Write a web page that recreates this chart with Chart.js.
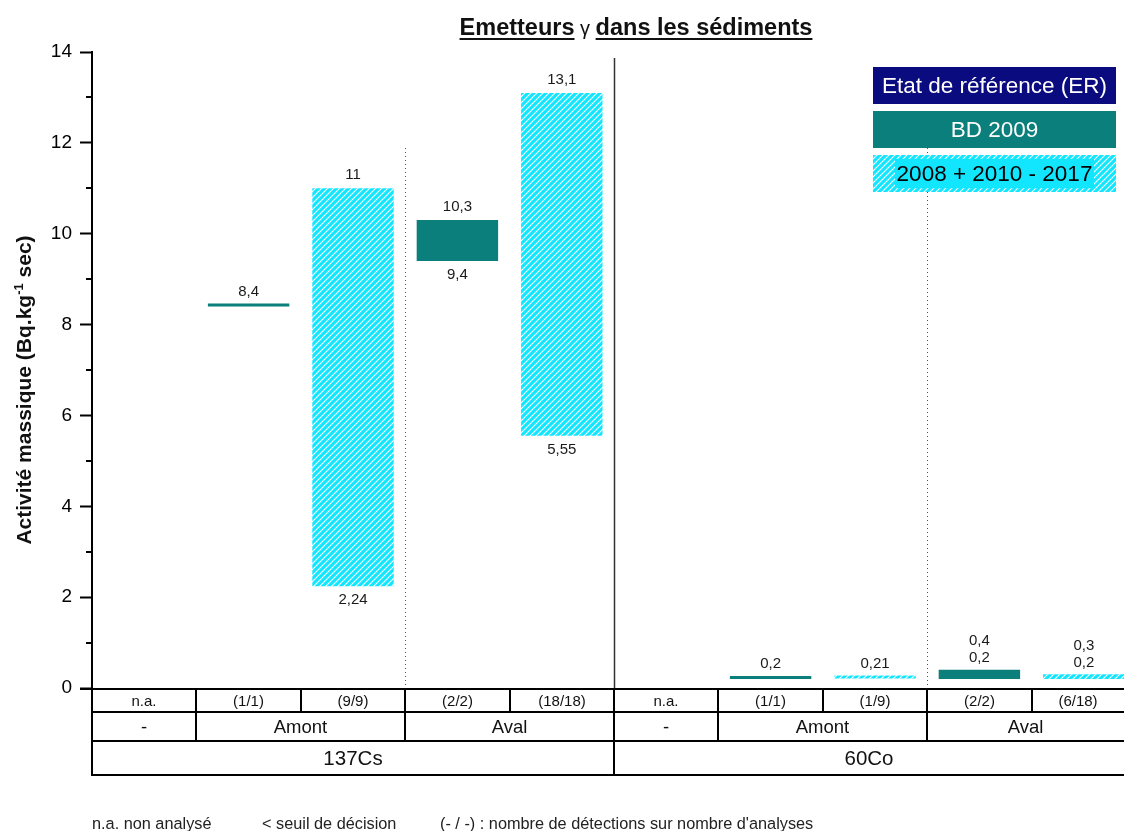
<!DOCTYPE html>
<html><head><meta charset="utf-8">
<script src="https://cdn.jsdelivr.net/npm/chart.js@4/dist/chart.umd.min.js"></script>
<style>html,body{margin:0;padding:0;background:#fff;overflow:hidden}#wrap{width:1124px;height:831px;position:relative}</style>
</head><body><div id="wrap"><canvas id="c" width="1124" height="831"></canvas></div>
<script>
// ---- data ----
const categories = ['n.a.', '(1/1)', '(9/9)', '(2/2)', '(18/18)', 'n.a.', '(1/1)', '(1/9)', '(2/2)', '(6/18)'];
const stations   = ['-', 'Amont', 'Amont', 'Aval', 'Aval', '-', 'Amont', 'Amont', 'Aval', 'Aval'];
const nuclides   = ['137Cs', '137Cs', '137Cs', '137Cs', '137Cs', '60Co', '60Co', '60Co', '60Co', '60Co'];
const legendLabels = ['Etat de référence (ER)', 'BD 2009', '2008 + 2010 - 2017'];
const erMin  = [null, null, null, null, null, null, null, null, null, null];
const erMax  = [null, null, null, null, null, null, null, null, null, null];
const bdMin  = [null, 8.4, null, 9.4, null, null, 0.2, null, 0.2, null];
const bdMax  = [null, 8.4, null, 10.3, null, null, 0.2, null, 0.4, null];
const recMin = [null, null, 2.24, null, 5.55, null, null, 0.21, null, 0.2];
const recMax = [null, null, 11, null, 13.1, null, null, 0.21, null, 0.3];
const yTicks = [0, 2, 4, 6, 8, 10, 12, 14];
const titleParts = [['Emetteurs', true], [' γ ', false], ['dans les sédiments', true]];
const yTitle = ['Activité massique (Bq.kg', '-1', ' sec)'];
const footnotes = ['n.a. non analysé', '< seuil de décision', "(- / -) : nombre de détections sur nombre d'analyses"];

// ---- styles ----
const FONT = '"Liberation Sans", Arial, Helvetica, sans-serif';
const NAVY = '#0b0b80', TEAL = '#0a7f7b', CYAN = '#12e6ff';
const hatch = (() => {
  const c = document.createElement('canvas'); c.width = 6; c.height = 6;
  const g = c.getContext('2d');
  g.fillStyle = CYAN; g.fillRect(0, 0, 6, 6);
  g.strokeStyle = '#ffffff'; g.lineWidth = 1.1;
  g.beginPath();
  g.moveTo(-1, 7); g.lineTo(7, -1);
  g.moveTo(-1, 1); g.lineTo(1, -1);
  g.moveTo(5, 7); g.lineTo(7, 5);
  g.stroke();
  return g.createPattern(c, 'repeat');
})();
const fmt = v => String(v).replace('.', ',');
const toRange = (lo, hi) => lo.map((v, i) => ({ x: i, y: v === null ? null : [v, hi[i]] }));
const ranges = [[erMin, erMax], [bdMin, bdMax], [recMin, recMax]];
const colors = [NAVY, TEAL, hatch];

const overlay = {
  id: 'overlay',
  beforeDatasetsDraw(chart) {
    const { ctx, chartArea: a, scales: { x } } = chart;
    ctx.save();
    ctx.strokeStyle = '#555'; ctx.lineWidth = 1; ctx.setLineDash([1, 3]);
    [2.5, 7.5].forEach(v => {
      const px = Math.round(x.getPixelForValue(v)) + 0.5;
      ctx.beginPath(); ctx.moveTo(px, 148); ctx.lineTo(px, a.bottom); ctx.stroke();
    });
    ctx.setLineDash([]);
    const sx = Math.round(x.getPixelForValue(4.5)) + 0.5;
    ctx.strokeStyle = '#333'; ctx.lineWidth = 1.5;
    ctx.beginPath(); ctx.moveTo(sx, 58); ctx.lineTo(sx, a.bottom); ctx.stroke();
    ctx.restore();
  },
  afterDatasetsDraw(chart) {
    const { ctx } = chart;
    ctx.save();
    ctx.font = '15px ' + FONT; ctx.fillStyle = '#1a1a1a'; ctx.textAlign = 'center'; ctx.textBaseline = 'middle';
    ranges.forEach(([lo, hi], di) => {
      const meta = chart.getDatasetMeta(di);
      lo.forEach((v, i) => {
        if (v === null) return;
        const el = meta.data[i];
        const top = Math.min(el.y, el.base), bot = Math.max(el.y, el.base);
        if (v === hi[i]) {
          ctx.fillText(fmt(v), el.x, top - 12);
        } else if (bot - top > 25) {
          ctx.fillText(fmt(hi[i]), el.x, top - 13);
          ctx.fillText(fmt(v), el.x, bot + 14);
        } else {
          ctx.fillText(fmt(v), el.x, top - 12);
          ctx.fillText(fmt(hi[i]), el.x, top - 29);
        }
      });
    });
    ctx.restore();
  },
  afterDraw(chart) {
    const { ctx, chartArea: a, scales: { x, y } } = chart;
    const W = chart.width;
    ctx.save();
    ctx.strokeStyle = '#000'; ctx.lineWidth = 2;
    for (let v = 1; v < 14; v += 2) {
      const py = Math.round(y.getPixelForValue(v));
      ctx.beginPath(); ctx.moveTo(a.left - 6, py); ctx.lineTo(a.left, py); ctx.stroke();
    }
    // table below the axis
    const r0 = a.bottom + 1, r1 = 712, r2 = 741, r3 = 775;
    const px = v => Math.round(x.getPixelForValue(v));
    ctx.beginPath();
    ctx.moveTo(a.left - 12, r0); ctx.lineTo(W, r0);
    [r1, r2, r3].forEach(ry => { ctx.moveTo(a.left - 1, ry); ctx.lineTo(W, ry); });
    ctx.moveTo(a.left, r0); ctx.lineTo(a.left, r3);
    for (let i = 0; i < categories.length; i++) {
      const bx = px(i + 0.5); if (bx >= W) continue;
      ctx.moveTo(bx, r0); ctx.lineTo(bx, r1);
      if (stations[i] !== stations[i + 1] || nuclides[i] !== nuclides[i + 1]) { ctx.moveTo(bx, r1); ctx.lineTo(bx, r2); }
      if (nuclides[i] !== nuclides[i + 1]) { ctx.moveTo(bx, r2); ctx.lineTo(bx, r3); }
    }
    ctx.stroke();
    ctx.fillStyle = '#111'; ctx.textAlign = 'center'; ctx.textBaseline = 'middle';
    const groupText = (arr, rowTop, rowBot, size) => {
      ctx.font = size + 'px ' + FONT;
      let s = 0;
      for (let i = 1; i <= arr.length; i++) {
        if (i === arr.length || arr[i] !== arr[s] || nuclides[i] !== nuclides[s]) {
          const left = px(s - 0.5), right = Math.min(px(i - 0.5), W);
          ctx.fillText(arr[s], (left + right) / 2, (rowTop + rowBot) / 2 + 1);
          s = i;
        }
      }
    };
    ctx.font = '15px ' + FONT;
    categories.forEach((c, i) => {
      const left = px(i - 0.5), right = Math.min(px(i + 0.5), W);
      ctx.fillText(c, (left + right) / 2, (r0 + r1) / 2 + 1);
    });
    groupText(stations, r1, r2, 18.5);
    groupText(nuclides, r2, r3, 20.5);
    // title
    ctx.textAlign = 'left'; ctx.textBaseline = 'alphabetic'; ctx.fillStyle = '#111';
    const tf = b => (b ? 'bold 23.5px ' : '20px ') + FONT;
    const widths = titleParts.map(([t, b]) => { ctx.font = tf(b); return ctx.measureText(t).width; });
    const total = widths.reduce((p, c) => p + c, 0);
    let tx = 636 - total / 2;
    titleParts.forEach(([t, b], k) => {
      ctx.font = tf(b);
      ctx.fillText(t, tx, 35);
      if (b) { ctx.fillRect(tx, 38, widths[k], 2); }
      tx += widths[k];
    });
    // y axis title
    ctx.save();
    ctx.translate(31, 390); ctx.rotate(-Math.PI / 2);
    const f1 = 'bold 21px ' + FONT, f2 = 'bold 13px ' + FONT;
    ctx.font = f1; const w0 = ctx.measureText(yTitle[0]).width, w2 = ctx.measureText(yTitle[2]).width;
    ctx.font = f2; const w1 = ctx.measureText(yTitle[1]).width;
    let yx = -(w0 + w1 + w2) / 2;
    ctx.font = f1; ctx.fillText(yTitle[0], yx, 0); yx += w0;
    ctx.font = f2; ctx.fillText(yTitle[1], yx, -8); yx += w1;
    ctx.font = f1; ctx.fillText(yTitle[2], yx, 0);
    ctx.restore();
    // footnotes
    ctx.font = '16.3px ' + FONT; ctx.fillStyle = '#222';
    [92, 262, 440].forEach((fx, k) => ctx.fillText(footnotes[k], fx, 829));
    // legend boxes
    const lx = 873, lw = 243, lh = 37;
    legendLabels.forEach((lab, k) => {
      const ly = 67 + k * 44;
      ctx.fillStyle = colors[k]; ctx.fillRect(lx, ly, lw, lh);
      if (k === 2) { ctx.fillStyle = CYAN; ctx.fillRect(lx + 22, ly + 4, lw - 44, lh - 8); }
      ctx.fillStyle = k === 2 ? '#000' : '#fff';
      ctx.font = '22.5px ' + FONT; ctx.textAlign = 'center'; ctx.textBaseline = 'middle';
      ctx.fillText(lab, lx + lw / 2, ly + lh / 2 + 1);
    });
    ctx.restore();
  }
};

new Chart(document.getElementById('c'), {
  type: 'bar',
  data: {
    labels: categories,
    datasets: legendLabels.map((lab, k) => ({
      label: lab,
      data: toRange(ranges[k][0], ranges[k][1]),
      backgroundColor: colors[k],
      borderWidth: 0
    }))
  },
  options: {
    responsive: false,
    animation: false,
    grouped: false,
    barPercentage: 0.78,
    categoryPercentage: 1,
    minBarLength: 3,
    layout: { padding: { top: 52, bottom: 143, left: 0, right: 0 } },
    plugins: { legend: { display: false }, tooltip: { enabled: false }, title: { display: false } },
    scales: {
      x: {
        type: 'linear', min: -0.5, max: 9.385, offset: false, display: false, grid: { display: false },
        afterBuildTicks: s => { s.ticks = categories.map((c, i) => ({ value: i })); }
      },
      y: {
        min: 0, max: 14,
        afterBuildTicks: s => { s.ticks = yTicks.map(v => ({ value: v })); },
        ticks: { font: { size: 19, family: FONT }, color: '#000', padding: 8 },
        grid: { drawOnChartArea: false, drawTicks: true, tickLength: 12, tickColor: '#000', tickWidth: 2 },
        border: { display: true, color: '#000', width: 2 },
        afterFit: s => { s.width = 92; }
      }
    }
  },
  plugins: [overlay]
});
</script>
</body></html>
